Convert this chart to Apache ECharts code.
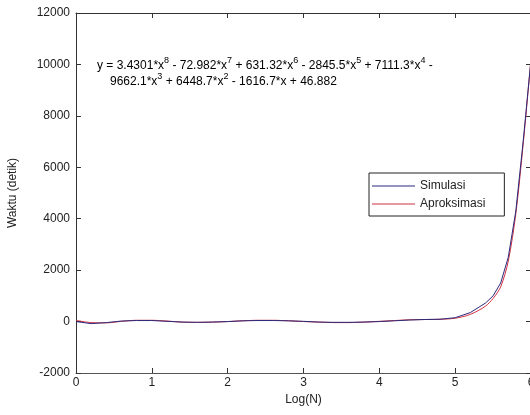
<!DOCTYPE html>
<html>
<head>
<meta charset="utf-8">
<script src="https://cdn.jsdelivr.net/npm/echarts@6/dist/echarts.min.js"></script>
<style>html,body{margin:0;padding:0;background:#fff;}#c{width:530px;height:415px;}</style>
</head>
<body>
<div id="c"></div>
<script>
var xValues = [0, 0.2, 0.4, 0.6, 0.8, 1.0, 1.2, 1.4, 1.6, 1.8, 2.0, 2.2, 2.4, 2.6, 2.8, 3.0, 3.2, 3.4, 3.6, 3.8, 4.0, 4.2, 4.4, 4.6, 4.8, 5.0, 5.2, 5.4, 5.5, 5.6, 5.7, 5.8, 5.9, 6.0];
var simulasi = [0, -80, -40, 20, 40, 40, 10, -20, -30, -20, 0, 30, 40, 40, 30, 10, -20, -30, -30, -20, 0, 30, 60, 80, 90, 150, 350, 720, 1000, 1500, 2500, 4300, 7100, 10200];
var aproksimasi = [47, -40, -50, 10, 50, 50, 20, -20, -30, -20, 0, 30, 50, 50, 30, 0, -20, -40, -40, -20, 10, 40, 70, 80, 90, 130, 280, 600, 900, 1350, 2350, 4200, 7000, 10200];
var seriesNames = ['Simulasi', 'Aproksimasi'];
var xTicks = [0, 1, 2, 3, 4, 5, 6];
var yTicks = [-2000, 0, 2000, 4000, 6000, 8000, 10000, 12000];
var eqLine1 = 'y = 3.4301*x{s|8} - 72.982*x{s|7} + 631.32*x{s|6} - 2845.5*x{s|5} + 7111.3*x{s|4} -';
var eqLine2 = '9662.1*x{s|3} + 6448.7*x{s|2} - 1616.7*x + 46.882';

function pairs(xs, ys) { return xs.map(function (x, i) { return [x, ys[i]]; }); }

var font = 'Liberation Sans, Arial, sans-serif';
var axisCol = '#333';
var chart = echarts.init(document.getElementById('c'));
var richStyle = {
  n: { fontSize: 12, lineHeight: 20, fontFamily: font, color: '#222' },
  s: { fontSize: 9, lineHeight: 10, verticalAlign: 'top', fontFamily: font, color: '#222' }
};
function toRich(t) { return '{n|' + t.replace(/\{s\|(\d)\}/g, '}{s|$1}{n|') + '}'; }
chart.setOption({
  animation: false,
  backgroundColor: '#fff',
  grid: { left: 76, top: 13, width: 455, height: 360, outerBoundsMode: 'none', containLabel: false },
  xAxis: [{
    type: 'value', min: xTicks[0], max: xTicks[xTicks.length - 1], interval: 1,
    name: 'Log(N)', nameLocation: 'middle', nameGap: 20,
    nameTextStyle: { fontFamily: font, fontSize: 12, color: '#222' },
    axisLine: { onZero: false, lineStyle: { color: '#555', width: 1 } },
    axisTick: { inside: true, length: 5, lineStyle: { color: axisCol } },
    axisLabel: { fontFamily: font, fontSize: 12, color: '#222', margin: 4 },
    splitLine: { show: false }
  }, {
    type: 'value', position: 'top', min: xTicks[0], max: xTicks[xTicks.length - 1], interval: 1,
    axisLine: { onZero: false, lineStyle: { color: axisCol } },
    axisTick: { inside: true, length: 5, lineStyle: { color: axisCol } },
    axisLabel: { show: false }, splitLine: { show: false }
  }],
  yAxis: [{
    type: 'value', min: yTicks[0], max: yTicks[yTicks.length - 1], interval: 2000,
    name: 'Waktu (detik)', nameLocation: 'middle', nameGap: 57,
    nameTextStyle: { fontFamily: font, fontSize: 12, color: '#222' },
    axisLine: { onZero: false, lineStyle: { color: axisCol, width: 1 } },
    axisTick: { inside: true, length: 5, lineStyle: { color: axisCol } },
    axisLabel: { fontFamily: font, fontSize: 12, color: '#222', margin: 6, formatter: function (v) { return String(v); } },
    splitLine: { show: false }
  }, {
    type: 'value', position: 'right', min: yTicks[0], max: yTicks[yTicks.length - 1], interval: 2000,
    axisLine: { onZero: false, lineStyle: { color: axisCol } },
    axisTick: { inside: true, length: 5, lineStyle: { color: axisCol } },
    axisLabel: { show: false }, splitLine: { show: false }
  }],
  legend: {
    show: true,
    data: seriesNames, orient: 'vertical', left: 369, top: 173,
    backgroundColor: '#fff', borderColor: '#222', borderWidth: 1,
    padding: [7, 19, 6, 3], itemGap: 6, itemWidth: 43, itemHeight: 1,
    icon: 'rect',
    textStyle: { fontFamily: font, fontSize: 12, color: '#222' }
  },
  graphic: [
    { type: 'text', left: 97, top: 56, z: 10, style: { text: toRich(eqLine1), rich: richStyle } },
    { type: 'text', left: 110, top: 72, z: 10, style: { text: toRich(eqLine2), rich: richStyle } }
  ],
  series: [{
    name: seriesNames[0], type: 'line', data: pairs(xValues, simulasi), showSymbol: false,
    lineStyle: { color: '#2a2a7a', width: 1 }, itemStyle: { color: '#2a2a7a' }, z: 3
  }, {
    name: seriesNames[1], type: 'line', data: pairs(xValues, aproksimasi), showSymbol: false, smooth: 0.3,
    lineStyle: { color: '#d03040', width: 1 }, itemStyle: { color: '#d03040' }, z: 2
  }]
});
</script>
</body>
</html>
